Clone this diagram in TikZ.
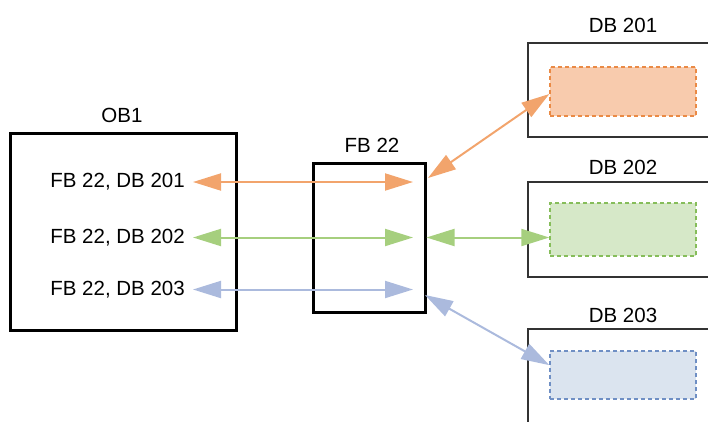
\documentclass[tikz,border=0pt]{standalone}
\usepackage{fontspec}
\setmainfont{Liberation Sans}
\usetikzlibrary{arrows.meta,calc}

\definecolor{arancio}{HTML}{F2A46C}
\definecolor{arancioF}{HTML}{F8CBAD}
\definecolor{arancioD}{HTML}{EA8A45}
\definecolor{verde}{HTML}{A6CF7E}
\definecolor{verdeF}{HTML}{D6E8C8}
\definecolor{verdeD}{HTML}{86BD5A}
\definecolor{blu}{HTML}{ABBADD}
\definecolor{bluF}{HTML}{DBE4EF}
\definecolor{bluD}{HTML}{6F8FC4}

\tikzset{
  blocco/.style={draw=black, line width=3pt, inner sep=0pt},
  dbbox/.style={draw=black!80, line width=1.3pt, inner sep=0pt,
    minimum width=232pt},
  istanza/.style={line width=1.4pt, dash pattern=on 4pt off 3pt,
    inner sep=0pt, minimum width=146pt},
  chiamata/.style={anchor=east, inner xsep=8pt, inner ysep=0pt},
  freccia/.style={line width=2pt,
    {Triangle[length=28pt,width=17pt]}-{Triangle[length=28pt,width=17pt]}},
}

\begin{document}
\begin{tikzpicture}[x = 1pt, y = -1pt, font=\fontsize{20.5}{24}\selectfont]

    \clip (0,0) rectangle (708,421);

    % Blocco OB1
    \node[blocco, minimum width=226pt, minimum height=197pt] (ob1) at (123,231.5) {};
    \node (lob1) at (122,115) {OB1};
    \node[chiamata] (t201) at (193,182) {FB 22, DB 201};
    \node[chiamata] (t202) at (193,237.5) {FB 22, DB 202};
    \node[chiamata] (t203) at (193,289.5) {FB 22, DB 203};

    % Blocco FB 22
    \node[blocco, minimum width=112pt, minimum height=149pt] (fb22) at (369,237.5) {};
    \node (lfb22) at (372,145) {FB 22};
    \coordinate (p201) at (413,182);
    \coordinate (p202) at (413,237.5);
    \coordinate (p203) at (413,289.5);
    \coordinate (q201) at (428,178);
    \coordinate (q203) at (425,295);

    % Blocchi dati
    \node[dbbox, minimum height=94pt] (db201) at (644,90) {};
    \node[dbbox, minimum height=95pt] (db202) at (644,229.5) {};
    \node[dbbox, minimum height=111pt] (db203) at (644,384.5) {};
    \node (ldb201) at (623,25) {DB 201};
    \node (ldb202) at (623,167) {DB 202};
    \node (ldb203) at (623,315) {DB 203};

    % Istanze
    \node[istanza, draw=arancioD, fill=arancioF, minimum height=49pt] (i201) at (623,91.5) {};
    \node[istanza, draw=verdeD, fill=verdeF, minimum height=53pt] (i202) at (623,229.5) {};
    \node[istanza, draw=bluD, fill=bluF, minimum height=48pt] (i203) at (623,375) {};

    % Frecce OB1 - FB 22
    \draw[freccia, arancio] (t201.east) -- (p201);
    \draw[freccia, verde] (t202.east) -- (p202);
    \draw[freccia, blu] (t203.east) -- (p203);

    % Frecce FB 22 - DB
    \draw[freccia, arancio] (q201) -- ($(i201.north west)!0.55!(i201.south west)$);
    \draw[freccia, verde] (fb22.east) -- (i202.west |- fb22.east);
    \draw[freccia, blu] (q203) -- ($(i203.north west)!0.3!(i203.south west)$);

\end{tikzpicture}
\end{document}
